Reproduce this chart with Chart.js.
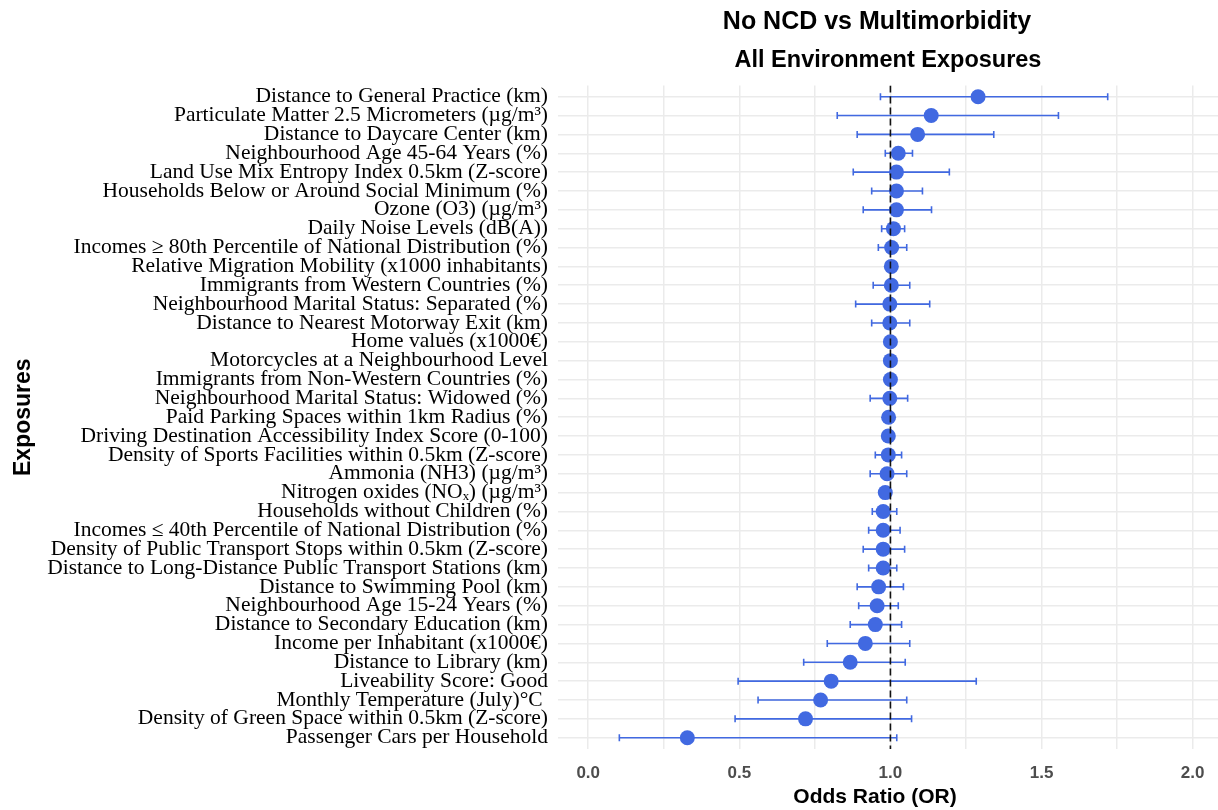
<!DOCTYPE html>
<html>
<head>
<meta charset="utf-8">
<script src="https://cdn.jsdelivr.net/npm/chart.js@4.4.1/dist/chart.umd.min.js"></script>
<style>
  html, body { margin: 0; padding: 0; background: #ffffff; }
  #wrap { width: 1218px; height: 810px; }
</style>
</head>
<body>
<div id="wrap"><canvas id="forestChart" width="1218" height="810"></canvas></div>
<script>
// exposures, top to bottom as in the figure
const exposures = [
  "Distance to General Practice (km)",
  "Particulate Matter 2.5 Micrometers (\u00b5g/m\u00b3)",
  "Distance to Daycare Center (km)",
  "Neighbourhood Age 45-64 Years (%)",
  "Land Use Mix Entropy Index 0.5km (Z-score)",
  "Households Below or Around Social Minimum (%)",
  "Ozone (O3) (\u00b5g/m\u00b3)",
  "Daily Noise Levels (dB(A))",
  "Incomes \u2265 80th Percentile of National Distribution (%)",
  "Relative Migration Mobility (x1000 inhabitants)",
  "Immigrants from Western Countries (%)",
  "Neighbourhood Marital Status: Separated (%)",
  "Distance to Nearest Motorway Exit (km)",
  "Home values (x1000\u20ac)",
  "Motorcycles at a Neighbourhood Level",
  "Immigrants from Non-Western Countries (%)",
  "Neighbourhood Marital Status: Widowed (%)",
  "Paid Parking Spaces within 1km Radius (%)",
  "Driving Destination Accessibility Index Score (0-100)",
  "Density of Sports Facilities within 0.5km (Z-score)",
  "Ammonia (NH3) (\u00b5g/m\u00b3)",
  "Nitrogen oxides (NO\u2093) (\u00b5g/m\u00b3)",
  "Households without Children (%)",
  "Incomes \u2264 40th Percentile of National Distribution (%)",
  "Density of Public Transport Stops within 0.5km (Z-score)",
  "Distance to Long-Distance Public Transport Stations (km)",
  "Distance to Swimming Pool (km)",
  "Neighbourhood Age 15-24 Years (%)",
  "Distance to Secondary Education (km)",
  "Income per Inhabitant (x1000\u20ac)",
  "Distance to Library (km)",
  "Liveability Score: Good",
  "Monthly Temperature (July)\u00b0C ",
  "Density of Green Space within 0.5km (Z-score)",
  "Passenger Cars per Household"
];

const oddsRatio = [
  1.29, 1.135, 1.09, 1.026, 1.02, 1.02, 1.02, 1.01, 1.004,
  1.003, 1.003, 0.998, 0.998, 1.0, 1.0, 1.0, 0.998, 0.994,
  0.993, 0.993, 0.989, 0.983, 0.976, 0.976, 0.976, 0.976, 0.961,
  0.956, 0.95, 0.917, 0.867, 0.804, 0.769, 0.719, 0.328
];

const ciLower = [
  0.967, 0.824, 0.89, 0.983, 0.877, 0.938, 0.91, 0.971, 0.96,
  0.995, 0.943, 0.885, 0.938, 0.993, 0.993, 0.993, 0.933, 0.987,
  0.986, 0.95, 0.933, 0.975, 0.94, 0.928, 0.91, 0.928, 0.89,
  0.895, 0.867, 0.791, 0.713, 0.496, 0.562, 0.486, 0.103
];

const ciUpper = [
  1.719, 1.556, 1.342, 1.073, 1.195, 1.106, 1.136, 1.047, 1.054,
  1.011, 1.064, 1.13, 1.064, 1.007, 1.007, 1.007, 1.057, 1.001,
  1.0, 1.037, 1.054, 0.992, 1.021, 1.032, 1.047, 1.021, 1.043,
  1.026, 1.037, 1.064, 1.049, 1.284, 1.054, 1.07, 1.021
];

const xTickLabels = [0, 0.5, 1, 1.5, 2];
const refLine = 1;

const titleText = 'No NCD vs Multimorbidity';
const subtitleText = 'All Environment Exposures';
const xTitleText = 'Odds Ratio (OR)';

const blue = '#4169E1';
const gridGrey = '#ebebeb';
const sans = "'Liberation Sans', Arial, sans-serif";

const pointData = oddsRatio.map((v, i) => ({ x: v, y: i }));
const ciData = [];
const capData = [];
exposures.forEach((_, i) => {
  ciData.push({ x: ciLower[i], y: i }, { x: ciUpper[i], y: i }, { x: null, y: null });
  capData.push({ x: ciLower[i], y: i }, { x: ciUpper[i], y: i });
});

// ggplot puts the titles a little left of the panel centre, so draw them by hand
const ggTitles = {
  id: 'ggTitles',
  afterDraw(chart) {
    const c = chart.ctx;
    c.save();
    c.fillStyle = '#000000';
    c.textAlign = 'center';
    c.textBaseline = 'middle';
    c.font = 'bold 25px ' + sans;
    c.fillText(titleText, 877, 22);
    c.font = 'bold 23.5px ' + sans;
    c.fillText(subtitleText, 888, 61);
    c.font = 'bold 21px ' + sans;
    c.fillText(xTitleText, 875, 797);
    c.restore();
  }
};

const ctx = document.getElementById('forestChart').getContext('2d');
const chart = new Chart(ctx, {
  type: 'scatter',
  data: {
    datasets: [
      {
        // dashed reference line at OR = 1 (drawn on top)
        data: [{ x: refLine, y: -0.6 }, { x: refLine, y: exposures.length - 0.4 }],
        showLine: true,
        borderColor: '#111111',
        borderWidth: 1.6,
        borderDash: [7, 4],
        pointRadius: 0
      },
      {
        data: pointData,
        backgroundColor: blue,
        borderWidth: 0,
        pointRadius: 7.5
      },
      {
        data: ciData,
        showLine: true,
        spanGaps: false,
        borderColor: blue,
        borderWidth: 1.6,
        pointRadius: 0
      },
      {
        data: capData,
        pointStyle: 'line',
        rotation: 90,
        pointRadius: 3.5,
        borderColor: blue,
        borderWidth: 1.6
      }
    ]
  },
  options: {
    responsive: false,
    animation: false,
    events: [],
    layout: { autoPadding: false, padding: { top: 85.4, left: 0, right: 0, bottom: 0 } },
    plugins: {
      legend: { display: false },
      tooltip: { enabled: false }
    },
    scales: {
      x: {
        type: 'linear',
        min: -0.1,
        max: 2.084,
        grid: { color: gridGrey, lineWidth: 1.5, drawTicks: false },
        border: { display: false },
        ticks: {
          stepSize: 0.25,
          includeBounds: false,
          autoSkip: false,
          maxRotation: 0,
          padding: 14,
          color: '#4d4d4d',
          font: { family: sans, size: 17, weight: 'bold' },
          callback: v => xTickLabels.includes(v) ? v.toFixed(1) : ''
        },
        afterFit: scale => {
          scale.height = 61;
          scale.paddingLeft = 0;
          scale.paddingRight = 0;
        }
      },
      y: {
        type: 'linear',
        reverse: true,
        min: -0.6,
        max: exposures.length - 0.4,
        grid: { color: gridGrey, lineWidth: 1.5, drawTicks: false },
        border: { display: false },
        ticks: {
          stepSize: 1,
          includeBounds: false,
          autoSkip: false,
          padding: 10,
          color: '#000000',
          font: { family: "'Liberation Serif', 'Times New Roman', serif", size: 21.5 },
          callback: v => exposures[v] !== undefined ? exposures[v] : ''
        },
        title: {
          display: true,
          text: 'Exposures',
          color: '#000000',
          font: { family: sans, size: 23, weight: 'bold' },
          padding: { top: 10, bottom: 0 }
        },
        afterFit: scale => { scale.width = 558; }
      }
    }
  },
  plugins: [ggTitles]
});
</script>
</body>
</html>
